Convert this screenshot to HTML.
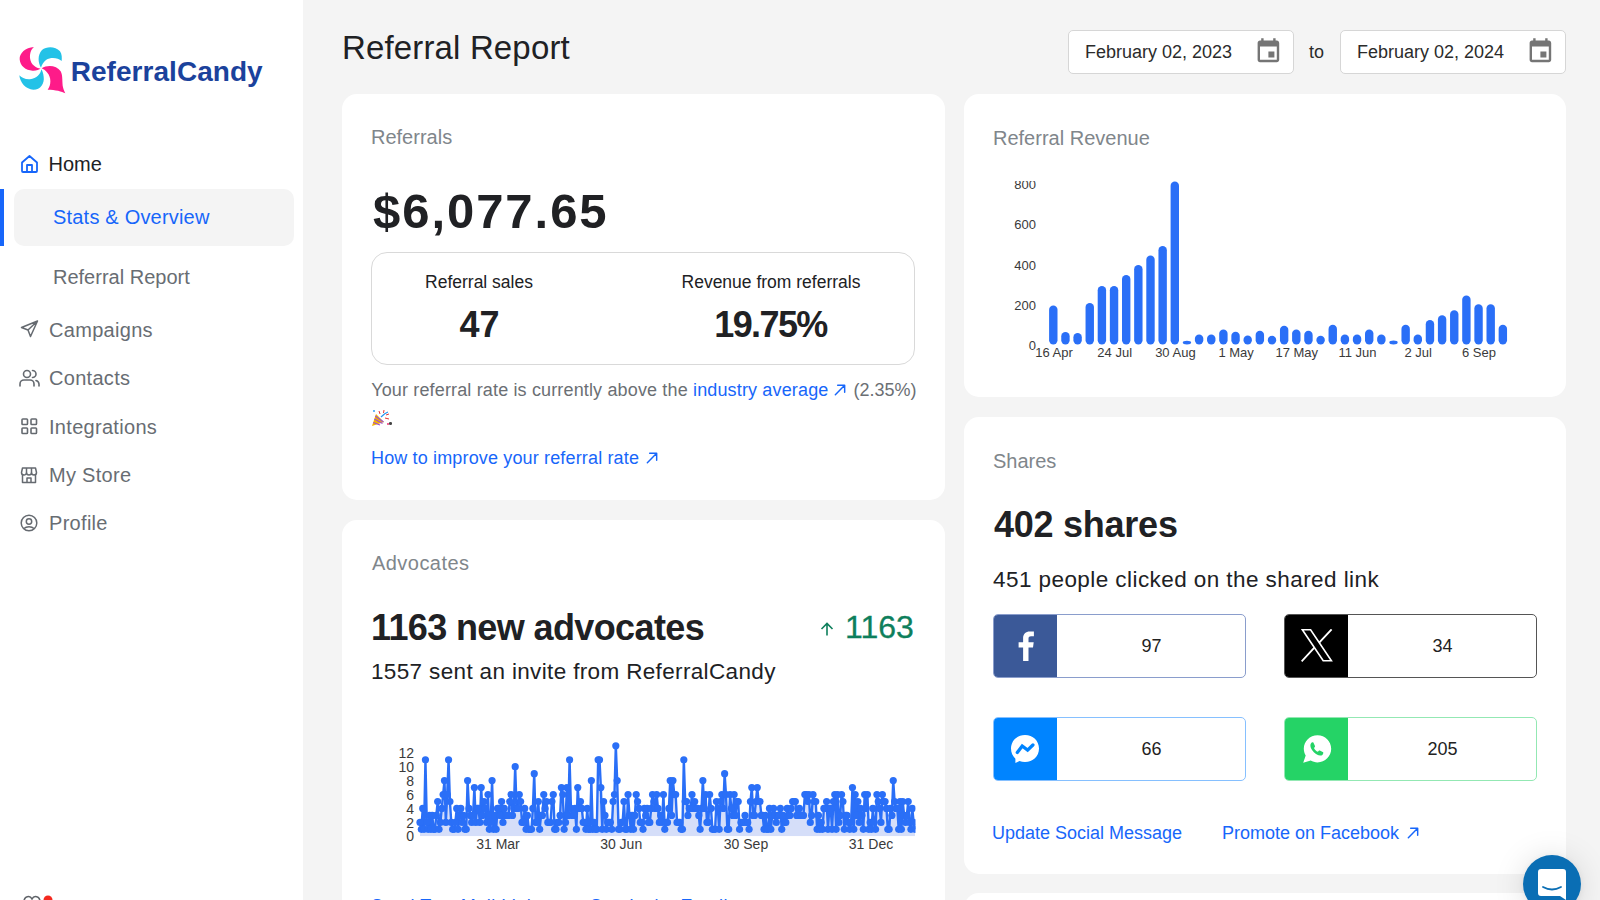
<!DOCTYPE html><html><head><meta charset="utf-8"><style>
html,body{margin:0;padding:0;width:1600px;height:900px;overflow:hidden;background:#f4f4f4;font-family:"Liberation Sans",sans-serif;}
.t{position:absolute;white-space:nowrap;}
.card{position:absolute;background:#fff;border-radius:15px;}
</style></head><body>
<div style="position:absolute;left:0px;top:0px;width:303px;height:900px;background:#fff;"></div>
<svg style="position:absolute;left:14px;top:40px" width="60" height="60" viewBox="0 0 900 900">
<path fill="#fe1b89" d="M300,105 C170,110 80,200 85,290 C90,390 180,465 290,460 C340,455 380,440 400,430 C330,420 250,370 240,270 C235,190 265,130 300,105 Z"/>
<path fill="#23c2e7" d="M405,415 C360,340 350,230 420,150 C490,90 620,90 690,170 C720,210 720,270 715,315 C660,270 560,250 480,300 C440,330 415,380 405,415 Z"/>
<path fill="#23c2e7" d="M80,530 C90,640 180,745 290,745 C400,745 460,650 445,550 C440,500 425,460 410,440 C400,510 340,580 240,590 C170,595 110,565 80,530 Z"/>
<path fill="#fe1b89" d="M415,425 C500,370 640,380 700,470 C735,530 720,640 735,710 C745,750 760,780 770,800 C720,770 620,745 505,745 C560,670 560,560 500,490 C470,455 440,435 415,425 Z"/>
</svg>
<div class="t" id="logo" style="left:70.7px;top:57.50px;font-size:28px;line-height:28px;color:#1b429c;font-weight:700;letter-spacing:0.05px;">ReferralCandy</div>
<div style="position:absolute;left:14px;top:189px;width:280px;height:57px;background:#f4f4f4;border-radius:10px;"></div>
<div style="position:absolute;left:0px;top:189px;width:4px;height:57px;background:#1766fa;"></div>
<div class="t" id="nav_home" style="left:48.5px;top:154.17px;font-size:20px;line-height:20px;color:#202124;font-weight:400;">Home</div>
<div class="t" id="nav_stats" style="left:53px;top:207.47px;font-size:20px;line-height:20px;color:#1766fa;font-weight:400;letter-spacing:0.2px;">Stats &amp; Overview</div>
<div class="t" id="nav_rr" style="left:53px;top:266.57px;font-size:20px;line-height:20px;color:#686d73;font-weight:400;">Referral Report</div>
<div class="t" id="nav_camp" style="left:49px;top:319.57px;font-size:20px;line-height:20px;color:#686d73;font-weight:400;letter-spacing:0.3px;">Campaigns</div>
<div class="t" id="nav_cont" style="left:49px;top:367.87px;font-size:20px;line-height:20px;color:#686d73;font-weight:400;letter-spacing:0.3px;">Contacts</div>
<div class="t" id="nav_int" style="left:49px;top:416.87px;font-size:20px;line-height:20px;color:#686d73;font-weight:400;letter-spacing:0.3px;">Integrations</div>
<div class="t" id="nav_store" style="left:49px;top:465.07px;font-size:20px;line-height:20px;color:#686d73;font-weight:400;letter-spacing:0.3px;">My Store</div>
<div class="t" id="nav_prof" style="left:49px;top:513.27px;font-size:20px;line-height:20px;color:#686d73;font-weight:400;letter-spacing:0.3px;">Profile</div>
<svg style="position:absolute;left:20px;top:154px" width="19" height="20" viewBox="0 0 19 20"><path d="M2 8.5 L9.5 2 L17 8.5 V17 a1 1 0 0 1 -1 1 H3 a1 1 0 0 1 -1 -1 Z M7 18 V11 H12 V18" fill="none" stroke="#1766fa" stroke-width="1.8" stroke-linejoin="round"/></svg>
<svg style="position:absolute;left:20px;top:320px" width="19" height="18" viewBox="0 0 19 18"><path d="M17.5 1 L1.5 7.5 L8 10 L10.5 16.5 Z M8 10 L17.5 1" fill="none" stroke="#656a70" stroke-width="1.5" stroke-linejoin="round"/></svg>
<svg style="position:absolute;left:19px;top:369px" width="21" height="18" viewBox="0 0 21 18"><circle cx="8" cy="5" r="3.5" fill="none" stroke="#656a70" stroke-width="1.6"/><path d="M1 17 V15 a4 4 0 0 1 4 -4 h6 a4 4 0 0 1 4 4 V17 M13.5 1.5 a3.5 3.5 0 0 1 0 7 M17 11.5 a4 4 0 0 1 3 3.5 V17" fill="none" stroke="#656a70" stroke-width="1.6" stroke-linecap="round"/></svg>
<svg style="position:absolute;left:21px;top:418px" width="17" height="17" viewBox="0 0 17 17"><g fill="none" stroke="#656a70" stroke-width="1.6"><rect x="1" y="1" width="5.5" height="5.5" rx="0.8"/><rect x="10" y="1" width="5.5" height="5.5" rx="0.8"/><rect x="1" y="10" width="5.5" height="5.5" rx="0.8"/><rect x="10" y="10" width="5.5" height="5.5" rx="0.8"/></g></svg>
<svg style="position:absolute;left:20px;top:466px" width="18" height="18" viewBox="0 0 18 18"><g fill="none" stroke="#656a70" stroke-width="1.5" stroke-linejoin="round"><path d="M2.5 2 H15.5 L16.5 6.5 a2.5 2.5 0 0 1 -5 0 a2.5 2.5 0 0 1 -5 0 a2.5 2.5 0 0 1 -5 0 Z"/><path d="M2.5 8 V16.5 H15.5 V8"/><path d="M7 16.5 V12 H11 V16.5"/><path d="M6.5 2 V6.5 M11.5 2 V6.5"/></g></svg>
<svg style="position:absolute;left:20px;top:514px" width="18" height="18" viewBox="0 0 18 18"><g fill="none" stroke="#656a70" stroke-width="1.5"><circle cx="9" cy="9" r="7.8"/><circle cx="9" cy="7.5" r="2.7"/><path d="M4 14.5 a6 4 0 0 1 10 0"/></g></svg>
<svg style="position:absolute;left:22px;top:894px" width="34" height="10" viewBox="0 0 34 10"><path d="M2 8 C2 2 8 1 10 5 C12 1 18 2 18 8" fill="none" stroke="#5f6368" stroke-width="1.6"/><circle cx="26" cy="6" r="4.5" fill="#f4291f"/></svg>
<div class="t" id="title" style="left:342px;top:31.17px;font-size:33px;line-height:33px;color:#202124;font-weight:400;letter-spacing:0.15px;">Referral Report</div>
<div style="position:absolute;left:1068px;top:30px;width:226px;height:43.5px;background:#fff;border:1px solid #d6d6d6;border-radius:5px;box-sizing:border-box;"></div>
<div class="t" id="d1" style="left:1085px;top:42.56px;font-size:18px;line-height:18px;color:#2b2b2b;font-weight:400;">February 02, 2023</div>
<svg style="position:absolute;left:1253.6px;top:37.2px" width="28.8" height="28.8" viewBox="0 0 24 24"><path fill="#757575" d="M17 12h-5v5h5v-5zM16 1v2H8V1H6v2H5c-1.11 0-1.99.9-1.99 2L3 19c0 1.1.89 2 2 2h14c1.1 0 2-.9 2-2V5c0-1.1-.9-2-2-2h-1V1h-2zm3 18H5V8h14v11z"/></svg>
<div class="t" id="to" style="left:1309px;top:42.56px;font-size:18px;line-height:18px;color:#2b2b2b;font-weight:400;">to</div>
<div style="position:absolute;left:1340px;top:30px;width:226px;height:43.5px;background:#fff;border:1px solid #d6d6d6;border-radius:5px;box-sizing:border-box;"></div>
<div class="t" id="d2" style="left:1357px;top:42.56px;font-size:18px;line-height:18px;color:#2b2b2b;font-weight:400;">February 02, 2024</div>
<svg style="position:absolute;left:1525.6px;top:37.2px" width="28.8" height="28.8" viewBox="0 0 24 24"><path fill="#757575" d="M17 12h-5v5h5v-5zM16 1v2H8V1H6v2H5c-1.11 0-1.99.9-1.99 2L3 19c0 1.1.89 2 2 2h14c1.1 0 2-.9 2-2V5c0-1.1-.9-2-2-2h-1V1h-2zm3 18H5V8h14v11z"/></svg>
<div style="position:absolute;left:342px;top:94px;width:603px;height:406px;background:#fff;border-radius:15px;"></div>
<div style="position:absolute;left:342px;top:520px;width:603px;height:480px;background:#fff;border-radius:15px;"></div>
<div style="position:absolute;left:964px;top:94px;width:602px;height:303px;background:#fff;border-radius:15px;"></div>
<div style="position:absolute;left:964px;top:417px;width:602px;height:457px;background:#fff;border-radius:15px;"></div>
<div style="position:absolute;left:964px;top:893px;width:602px;height:107px;background:#fff;border-radius:15px;"></div>
<div class="t" id="c1_label" style="left:371px;top:127.27px;font-size:20px;line-height:20px;color:#80868b;font-weight:400;">Referrals</div>
<div class="t" id="c1_big" style="left:373px;top:187.42px;font-size:49px;line-height:49px;color:#202124;font-weight:700;letter-spacing:1.95px;">$6,077.65</div>
<div style="position:absolute;left:371px;top:251.5px;width:544px;height:113.0px;border:1px solid #d9d9d9;border-radius:16px;box-sizing:border-box;"></div>
<div class="t" id="c1_rs" style="left:-21px;width:1000px;text-align:center;top:273.59px;font-size:17.5px;line-height:17.5px;color:#202124;font-weight:400;">Referral sales</div>
<div class="t" id="c1_47" style="left:-20.5px;width:1000px;text-align:center;top:306.83px;font-size:36px;line-height:36px;color:#202124;font-weight:700;">47</div>
<div class="t" id="c1_rev" style="left:271px;width:1000px;text-align:center;top:273.59px;font-size:17.5px;line-height:17.5px;color:#202124;font-weight:400;">Revenue from referrals</div>
<div class="t" id="c1_pct" style="left:270.5px;width:1000px;text-align:center;top:306.83px;font-size:36px;line-height:36px;color:#202124;font-weight:700;letter-spacing:-1.6px;">19.75%</div>
<div class="t" id="c1_p" style="left:371.2px;top:381.26px;font-size:18px;line-height:18px;color:#6b6f74;font-weight:400;letter-spacing:0.15px;">Your referral rate is currently above the <span style="color:#1766fa">industry average</span></div>
<svg style="position:absolute;left:832.5px;top:382.5px" width="14" height="14" viewBox="0 0 12 12"><path d="M2 10 L10 2 M4 2 H10 V8" fill="none" stroke="#1766fa" stroke-width="1.25" stroke-linecap="round" stroke-linejoin="round"/></svg>
<div class="t" id="c1_p2" style="left:853.5px;top:381.26px;font-size:18px;line-height:18px;color:#6b6f74;font-weight:400;">(2.35%)</div>
<svg style="position:absolute;left:371px;top:409px" width="20" height="18" viewBox="0 0 20 18">
<path d="M1 17 L5 5 L13 13 Z" fill="#f4b400"/><path d="M2.2 13.5 L9 16 M3.3 10 L11.5 14.5 M4.3 7 L12.5 13" stroke="#9c4fd6" stroke-width="1.2"/>
<path d="M8 2 L9 5 M13 1 L12.5 4 M15 6 L18 5 M14 9 L18 10" stroke="#e53935" stroke-width="1"/><path d="M10 8 Q14 4 17 3" stroke="#2196f3" stroke-width="1.2" fill="none"/>
<circle cx="17" cy="15" r="0.9" fill="#e91e63"/><circle cx="3" cy="2" r="0.9" fill="#2196f3"/>
</svg>
<div style="position:absolute;left:389px;top:422.3px;width:2.6000000000000227px;height:2.599999999999966px;background:#444;border-radius:50%;"></div>
<div class="t" id="c1_link" style="left:371px;top:448.76px;font-size:18px;line-height:18px;color:#1766fa;font-weight:400;letter-spacing:0.15px;">How to improve your referral rate</div>
<svg style="position:absolute;left:645px;top:450.5px" width="14" height="14" viewBox="0 0 12 12"><path d="M2 10 L10 2 M4 2 H10 V8" fill="none" stroke="#1766fa" stroke-width="1.25" stroke-linecap="round" stroke-linejoin="round"/></svg>
<div class="t" id="c2_label" style="left:372px;top:552.97px;font-size:20px;line-height:20px;color:#80868b;font-weight:400;letter-spacing:0.45px;">Advocates</div>
<div class="t" id="c2_big" style="left:371px;top:610.43px;font-size:36px;line-height:36px;color:#202124;font-weight:700;letter-spacing:-0.62px;">1163 new advocates</div>
<svg style="position:absolute;left:820px;top:622px" width="14" height="14" viewBox="0 0 14 14"><path d="M7 13.5 V1.5 M1.5 7 L7 1.5 L12.5 7" fill="none" stroke="#0e7f5c" stroke-width="1.6"/></svg>
<div class="t" id="c2_green" style="left:845px;top:611.01px;font-size:32px;line-height:32px;color:#0e7f5c;font-weight:400;-webkit-text-stroke:0.3px #0e7f5c;">1163</div>
<div class="t" id="c2_sub" style="left:371px;top:660.95px;font-size:22.5px;line-height:22.5px;color:#202124;font-weight:400;letter-spacing:0.35px;">1557 sent an invite from ReferralCandy</div>
<svg style="position:absolute;left:0;top:0" width="1600" height="900"><defs><clipPath id="cp"><rect x="410" y="700" width="505.5" height="136.29999999999995"/></clipPath></defs><g clip-path="url(#cp)"><polygon points="420,836.3 420.00,822.38 421.36,829.34 422.72,808.46 424.08,829.34 425.44,759.74 426.80,822.38 428.16,829.34 429.52,815.42 430.88,829.34 432.24,815.42 433.60,829.34 434.96,829.34 436.32,815.42 437.68,801.50 439.04,829.34 440.40,822.38 441.76,808.46 443.12,794.54 444.48,780.62 445.84,822.38 447.20,794.54 448.56,759.74 449.92,801.50 451.28,822.38 452.64,829.34 454.00,829.34 455.36,822.38 456.72,808.46 458.08,829.34 459.44,815.42 460.80,808.46 462.16,822.38 463.52,815.42 464.88,829.34 466.24,829.34 467.60,780.62 468.96,808.46 470.32,815.42 471.68,822.38 473.04,815.42 474.40,787.58 475.76,822.38 477.12,808.46 478.48,808.46 479.84,822.38 481.20,787.58 482.55,815.42 483.91,801.50 485.27,808.46 486.63,822.38 487.99,794.54 489.35,829.34 490.71,822.38 492.07,780.62 493.43,829.34 494.79,815.42 496.15,829.34 497.51,808.46 498.87,808.46 500.23,815.42 501.59,801.50 502.95,822.38 504.31,808.46 505.67,815.42 507.03,815.42 508.39,815.42 509.75,801.50 511.11,794.54 512.47,815.42 513.83,808.46 515.19,766.70 516.55,808.46 517.91,808.46 519.27,794.54 520.63,801.50 521.99,822.38 523.35,822.38 524.71,808.46 526.07,829.34 527.43,815.42 528.79,829.34 530.15,829.34 531.51,829.34 532.87,808.46 534.23,773.66 535.59,822.38 536.95,822.38 538.31,801.50 539.67,829.34 541.03,815.42 542.39,815.42 543.75,794.54 545.11,808.46 546.47,801.50 547.83,822.38 549.19,822.38 550.55,822.38 551.91,801.50 553.27,794.54 554.63,829.34 555.99,829.34 557.35,822.38 558.71,822.38 560.07,815.42 561.43,787.58 562.79,794.54 564.15,829.34 565.51,822.38 566.87,787.58 568.23,815.42 569.59,759.74 570.95,808.46 572.31,815.42 573.67,815.42 575.03,808.46 576.39,829.34 577.75,787.58 579.11,808.46 580.47,801.50 581.83,808.46 583.19,822.38 584.55,822.38 585.91,829.34 587.27,808.46 588.63,829.34 589.99,829.34 591.35,780.62 592.71,829.34 594.07,822.38 595.43,829.34 596.79,829.34 598.15,759.74 599.51,759.74 600.87,787.58 602.23,829.34 603.59,801.50 604.95,815.42 606.30,829.34 607.66,822.38 609.02,822.38 610.38,822.38 611.74,829.34 613.10,801.50 614.46,794.54 615.82,745.82 617.18,780.62 618.54,829.34 619.90,829.34 621.26,822.38 622.62,822.38 623.98,801.50 625.34,829.34 626.70,829.34 628.06,794.54 629.42,815.42 630.78,829.34 632.14,815.42 633.50,829.34 634.86,815.42 636.22,794.54 637.58,801.50 638.94,808.46 640.30,822.38 641.66,822.38 643.02,829.34 644.38,808.46 645.74,815.42 647.10,808.46 648.46,822.38 649.82,822.38 651.18,808.46 652.54,794.54 653.90,801.50 655.26,808.46 656.62,794.54 657.98,808.46 659.34,822.38 660.70,815.42 662.06,822.38 663.42,794.54 664.78,829.34 666.14,822.38 667.50,822.38 668.86,808.46 670.22,780.62 671.58,815.42 672.94,780.62 674.30,794.54 675.66,794.54 677.02,822.38 678.38,822.38 679.74,822.38 681.10,829.34 682.46,829.34 683.82,759.74 685.18,801.50 686.54,801.50 687.90,815.42 689.26,808.46 690.62,808.46 691.98,794.54 693.34,808.46 694.70,801.50 696.06,808.46 697.42,808.46 698.78,815.42 700.14,829.34 701.50,808.46 702.86,780.62 704.22,808.46 705.58,794.54 706.94,822.38 708.30,822.38 709.66,794.54 711.02,808.46 712.38,829.34 713.74,829.34 715.10,829.34 716.46,801.50 717.82,808.46 719.18,829.34 720.54,801.50 721.90,794.54 723.26,808.46 724.62,773.66 725.98,794.54 727.34,829.34 728.70,829.34 730.05,794.54 731.41,808.46 732.77,815.42 734.13,794.54 735.49,815.42 736.85,801.50 738.21,801.50 739.57,829.34 740.93,822.38 742.29,822.38 743.65,822.38 745.01,815.42 746.37,822.38 747.73,822.38 749.09,829.34 750.45,801.50 751.81,787.58 753.17,815.42 754.53,815.42 755.89,801.50 757.25,787.58 758.61,801.50 759.97,801.50 761.33,815.42 762.69,815.42 764.05,829.34 765.41,815.42 766.77,829.34 768.13,829.34 769.49,808.46 770.85,829.34 772.21,815.42 773.57,808.46 774.93,815.42 776.29,822.38 777.65,815.42 779.01,815.42 780.37,808.46 781.73,829.34 783.09,815.42 784.45,822.38 785.81,822.38 787.17,808.46 788.53,815.42 789.89,815.42 791.25,808.46 792.61,801.50 793.97,801.50 795.33,801.50 796.69,815.42 798.05,815.42 799.41,808.46 800.77,815.42 802.13,815.42 803.49,815.42 804.85,794.54 806.21,794.54 807.57,801.50 808.93,794.54 810.29,822.38 811.65,815.42 813.01,794.54 814.37,801.50 815.73,801.50 817.09,829.34 818.45,815.42 819.81,829.34 821.17,822.38 822.53,829.34 823.89,808.46 825.25,808.46 826.61,801.50 827.97,829.34 829.33,808.46 830.69,808.46 832.05,829.34 833.41,801.50 834.77,794.54 836.13,829.34 837.49,794.54 838.85,822.38 840.21,815.42 841.57,794.54 842.93,801.50 844.29,829.34 845.65,815.42 847.01,815.42 848.37,822.38 849.73,829.34 851.09,822.38 852.45,787.58 853.80,829.34 855.16,794.54 856.52,815.42 857.88,801.50 859.24,822.38 860.60,808.46 861.96,815.42 863.32,829.34 864.68,794.54 866.04,808.46 867.40,794.54 868.76,829.34 870.12,822.38 871.48,829.34 872.84,808.46 874.20,822.38 875.56,829.34 876.92,794.54 878.28,801.50 879.64,808.46 881.00,822.38 882.36,794.54 883.72,801.50 885.08,801.50 886.44,808.46 887.80,829.34 889.16,829.34 890.52,808.46 891.88,815.42 893.24,780.62 894.60,801.50 895.96,808.46 897.32,808.46 898.68,829.34 900.04,801.50 901.40,829.34 902.76,801.50 904.12,815.42 905.48,822.38 906.84,815.42 908.20,801.50 909.56,822.38 910.92,829.34 912.28,808.46 913.64,822.38 915.00,829.34 915,836.3" fill="#d5def9"/><polyline points="420.00,822.38 421.36,829.34 422.72,808.46 424.08,829.34 425.44,759.74 426.80,822.38 428.16,829.34 429.52,815.42 430.88,829.34 432.24,815.42 433.60,829.34 434.96,829.34 436.32,815.42 437.68,801.50 439.04,829.34 440.40,822.38 441.76,808.46 443.12,794.54 444.48,780.62 445.84,822.38 447.20,794.54 448.56,759.74 449.92,801.50 451.28,822.38 452.64,829.34 454.00,829.34 455.36,822.38 456.72,808.46 458.08,829.34 459.44,815.42 460.80,808.46 462.16,822.38 463.52,815.42 464.88,829.34 466.24,829.34 467.60,780.62 468.96,808.46 470.32,815.42 471.68,822.38 473.04,815.42 474.40,787.58 475.76,822.38 477.12,808.46 478.48,808.46 479.84,822.38 481.20,787.58 482.55,815.42 483.91,801.50 485.27,808.46 486.63,822.38 487.99,794.54 489.35,829.34 490.71,822.38 492.07,780.62 493.43,829.34 494.79,815.42 496.15,829.34 497.51,808.46 498.87,808.46 500.23,815.42 501.59,801.50 502.95,822.38 504.31,808.46 505.67,815.42 507.03,815.42 508.39,815.42 509.75,801.50 511.11,794.54 512.47,815.42 513.83,808.46 515.19,766.70 516.55,808.46 517.91,808.46 519.27,794.54 520.63,801.50 521.99,822.38 523.35,822.38 524.71,808.46 526.07,829.34 527.43,815.42 528.79,829.34 530.15,829.34 531.51,829.34 532.87,808.46 534.23,773.66 535.59,822.38 536.95,822.38 538.31,801.50 539.67,829.34 541.03,815.42 542.39,815.42 543.75,794.54 545.11,808.46 546.47,801.50 547.83,822.38 549.19,822.38 550.55,822.38 551.91,801.50 553.27,794.54 554.63,829.34 555.99,829.34 557.35,822.38 558.71,822.38 560.07,815.42 561.43,787.58 562.79,794.54 564.15,829.34 565.51,822.38 566.87,787.58 568.23,815.42 569.59,759.74 570.95,808.46 572.31,815.42 573.67,815.42 575.03,808.46 576.39,829.34 577.75,787.58 579.11,808.46 580.47,801.50 581.83,808.46 583.19,822.38 584.55,822.38 585.91,829.34 587.27,808.46 588.63,829.34 589.99,829.34 591.35,780.62 592.71,829.34 594.07,822.38 595.43,829.34 596.79,829.34 598.15,759.74 599.51,759.74 600.87,787.58 602.23,829.34 603.59,801.50 604.95,815.42 606.30,829.34 607.66,822.38 609.02,822.38 610.38,822.38 611.74,829.34 613.10,801.50 614.46,794.54 615.82,745.82 617.18,780.62 618.54,829.34 619.90,829.34 621.26,822.38 622.62,822.38 623.98,801.50 625.34,829.34 626.70,829.34 628.06,794.54 629.42,815.42 630.78,829.34 632.14,815.42 633.50,829.34 634.86,815.42 636.22,794.54 637.58,801.50 638.94,808.46 640.30,822.38 641.66,822.38 643.02,829.34 644.38,808.46 645.74,815.42 647.10,808.46 648.46,822.38 649.82,822.38 651.18,808.46 652.54,794.54 653.90,801.50 655.26,808.46 656.62,794.54 657.98,808.46 659.34,822.38 660.70,815.42 662.06,822.38 663.42,794.54 664.78,829.34 666.14,822.38 667.50,822.38 668.86,808.46 670.22,780.62 671.58,815.42 672.94,780.62 674.30,794.54 675.66,794.54 677.02,822.38 678.38,822.38 679.74,822.38 681.10,829.34 682.46,829.34 683.82,759.74 685.18,801.50 686.54,801.50 687.90,815.42 689.26,808.46 690.62,808.46 691.98,794.54 693.34,808.46 694.70,801.50 696.06,808.46 697.42,808.46 698.78,815.42 700.14,829.34 701.50,808.46 702.86,780.62 704.22,808.46 705.58,794.54 706.94,822.38 708.30,822.38 709.66,794.54 711.02,808.46 712.38,829.34 713.74,829.34 715.10,829.34 716.46,801.50 717.82,808.46 719.18,829.34 720.54,801.50 721.90,794.54 723.26,808.46 724.62,773.66 725.98,794.54 727.34,829.34 728.70,829.34 730.05,794.54 731.41,808.46 732.77,815.42 734.13,794.54 735.49,815.42 736.85,801.50 738.21,801.50 739.57,829.34 740.93,822.38 742.29,822.38 743.65,822.38 745.01,815.42 746.37,822.38 747.73,822.38 749.09,829.34 750.45,801.50 751.81,787.58 753.17,815.42 754.53,815.42 755.89,801.50 757.25,787.58 758.61,801.50 759.97,801.50 761.33,815.42 762.69,815.42 764.05,829.34 765.41,815.42 766.77,829.34 768.13,829.34 769.49,808.46 770.85,829.34 772.21,815.42 773.57,808.46 774.93,815.42 776.29,822.38 777.65,815.42 779.01,815.42 780.37,808.46 781.73,829.34 783.09,815.42 784.45,822.38 785.81,822.38 787.17,808.46 788.53,815.42 789.89,815.42 791.25,808.46 792.61,801.50 793.97,801.50 795.33,801.50 796.69,815.42 798.05,815.42 799.41,808.46 800.77,815.42 802.13,815.42 803.49,815.42 804.85,794.54 806.21,794.54 807.57,801.50 808.93,794.54 810.29,822.38 811.65,815.42 813.01,794.54 814.37,801.50 815.73,801.50 817.09,829.34 818.45,815.42 819.81,829.34 821.17,822.38 822.53,829.34 823.89,808.46 825.25,808.46 826.61,801.50 827.97,829.34 829.33,808.46 830.69,808.46 832.05,829.34 833.41,801.50 834.77,794.54 836.13,829.34 837.49,794.54 838.85,822.38 840.21,815.42 841.57,794.54 842.93,801.50 844.29,829.34 845.65,815.42 847.01,815.42 848.37,822.38 849.73,829.34 851.09,822.38 852.45,787.58 853.80,829.34 855.16,794.54 856.52,815.42 857.88,801.50 859.24,822.38 860.60,808.46 861.96,815.42 863.32,829.34 864.68,794.54 866.04,808.46 867.40,794.54 868.76,829.34 870.12,822.38 871.48,829.34 872.84,808.46 874.20,822.38 875.56,829.34 876.92,794.54 878.28,801.50 879.64,808.46 881.00,822.38 882.36,794.54 883.72,801.50 885.08,801.50 886.44,808.46 887.80,829.34 889.16,829.34 890.52,808.46 891.88,815.42 893.24,780.62 894.60,801.50 895.96,808.46 897.32,808.46 898.68,829.34 900.04,801.50 901.40,829.34 902.76,801.50 904.12,815.42 905.48,822.38 906.84,815.42 908.20,801.50 909.56,822.38 910.92,829.34 912.28,808.46 913.64,822.38 915.00,829.34" fill="none" stroke="#2a6ff7" stroke-width="2.4" stroke-linejoin="round"/><g fill="#2a6ff7"><circle cx="420.00" cy="822.38" r="3.6"/><circle cx="421.36" cy="829.34" r="3.6"/><circle cx="422.72" cy="808.46" r="3.6"/><circle cx="424.08" cy="829.34" r="3.6"/><circle cx="425.44" cy="759.74" r="3.6"/><circle cx="426.80" cy="822.38" r="3.6"/><circle cx="428.16" cy="829.34" r="3.6"/><circle cx="429.52" cy="815.42" r="3.6"/><circle cx="430.88" cy="829.34" r="3.6"/><circle cx="432.24" cy="815.42" r="3.6"/><circle cx="433.60" cy="829.34" r="3.6"/><circle cx="434.96" cy="829.34" r="3.6"/><circle cx="436.32" cy="815.42" r="3.6"/><circle cx="437.68" cy="801.50" r="3.6"/><circle cx="439.04" cy="829.34" r="3.6"/><circle cx="440.40" cy="822.38" r="3.6"/><circle cx="441.76" cy="808.46" r="3.6"/><circle cx="443.12" cy="794.54" r="3.6"/><circle cx="444.48" cy="780.62" r="3.6"/><circle cx="445.84" cy="822.38" r="3.6"/><circle cx="447.20" cy="794.54" r="3.6"/><circle cx="448.56" cy="759.74" r="3.6"/><circle cx="449.92" cy="801.50" r="3.6"/><circle cx="451.28" cy="822.38" r="3.6"/><circle cx="452.64" cy="829.34" r="3.6"/><circle cx="454.00" cy="829.34" r="3.6"/><circle cx="455.36" cy="822.38" r="3.6"/><circle cx="456.72" cy="808.46" r="3.6"/><circle cx="458.08" cy="829.34" r="3.6"/><circle cx="459.44" cy="815.42" r="3.6"/><circle cx="460.80" cy="808.46" r="3.6"/><circle cx="462.16" cy="822.38" r="3.6"/><circle cx="463.52" cy="815.42" r="3.6"/><circle cx="464.88" cy="829.34" r="3.6"/><circle cx="466.24" cy="829.34" r="3.6"/><circle cx="467.60" cy="780.62" r="3.6"/><circle cx="468.96" cy="808.46" r="3.6"/><circle cx="470.32" cy="815.42" r="3.6"/><circle cx="471.68" cy="822.38" r="3.6"/><circle cx="473.04" cy="815.42" r="3.6"/><circle cx="474.40" cy="787.58" r="3.6"/><circle cx="475.76" cy="822.38" r="3.6"/><circle cx="477.12" cy="808.46" r="3.6"/><circle cx="478.48" cy="808.46" r="3.6"/><circle cx="479.84" cy="822.38" r="3.6"/><circle cx="481.20" cy="787.58" r="3.6"/><circle cx="482.55" cy="815.42" r="3.6"/><circle cx="483.91" cy="801.50" r="3.6"/><circle cx="485.27" cy="808.46" r="3.6"/><circle cx="486.63" cy="822.38" r="3.6"/><circle cx="487.99" cy="794.54" r="3.6"/><circle cx="489.35" cy="829.34" r="3.6"/><circle cx="490.71" cy="822.38" r="3.6"/><circle cx="492.07" cy="780.62" r="3.6"/><circle cx="493.43" cy="829.34" r="3.6"/><circle cx="494.79" cy="815.42" r="3.6"/><circle cx="496.15" cy="829.34" r="3.6"/><circle cx="497.51" cy="808.46" r="3.6"/><circle cx="498.87" cy="808.46" r="3.6"/><circle cx="500.23" cy="815.42" r="3.6"/><circle cx="501.59" cy="801.50" r="3.6"/><circle cx="502.95" cy="822.38" r="3.6"/><circle cx="504.31" cy="808.46" r="3.6"/><circle cx="505.67" cy="815.42" r="3.6"/><circle cx="507.03" cy="815.42" r="3.6"/><circle cx="508.39" cy="815.42" r="3.6"/><circle cx="509.75" cy="801.50" r="3.6"/><circle cx="511.11" cy="794.54" r="3.6"/><circle cx="512.47" cy="815.42" r="3.6"/><circle cx="513.83" cy="808.46" r="3.6"/><circle cx="515.19" cy="766.70" r="3.6"/><circle cx="516.55" cy="808.46" r="3.6"/><circle cx="517.91" cy="808.46" r="3.6"/><circle cx="519.27" cy="794.54" r="3.6"/><circle cx="520.63" cy="801.50" r="3.6"/><circle cx="521.99" cy="822.38" r="3.6"/><circle cx="523.35" cy="822.38" r="3.6"/><circle cx="524.71" cy="808.46" r="3.6"/><circle cx="526.07" cy="829.34" r="3.6"/><circle cx="527.43" cy="815.42" r="3.6"/><circle cx="528.79" cy="829.34" r="3.6"/><circle cx="530.15" cy="829.34" r="3.6"/><circle cx="531.51" cy="829.34" r="3.6"/><circle cx="532.87" cy="808.46" r="3.6"/><circle cx="534.23" cy="773.66" r="3.6"/><circle cx="535.59" cy="822.38" r="3.6"/><circle cx="536.95" cy="822.38" r="3.6"/><circle cx="538.31" cy="801.50" r="3.6"/><circle cx="539.67" cy="829.34" r="3.6"/><circle cx="541.03" cy="815.42" r="3.6"/><circle cx="542.39" cy="815.42" r="3.6"/><circle cx="543.75" cy="794.54" r="3.6"/><circle cx="545.11" cy="808.46" r="3.6"/><circle cx="546.47" cy="801.50" r="3.6"/><circle cx="547.83" cy="822.38" r="3.6"/><circle cx="549.19" cy="822.38" r="3.6"/><circle cx="550.55" cy="822.38" r="3.6"/><circle cx="551.91" cy="801.50" r="3.6"/><circle cx="553.27" cy="794.54" r="3.6"/><circle cx="554.63" cy="829.34" r="3.6"/><circle cx="555.99" cy="829.34" r="3.6"/><circle cx="557.35" cy="822.38" r="3.6"/><circle cx="558.71" cy="822.38" r="3.6"/><circle cx="560.07" cy="815.42" r="3.6"/><circle cx="561.43" cy="787.58" r="3.6"/><circle cx="562.79" cy="794.54" r="3.6"/><circle cx="564.15" cy="829.34" r="3.6"/><circle cx="565.51" cy="822.38" r="3.6"/><circle cx="566.87" cy="787.58" r="3.6"/><circle cx="568.23" cy="815.42" r="3.6"/><circle cx="569.59" cy="759.74" r="3.6"/><circle cx="570.95" cy="808.46" r="3.6"/><circle cx="572.31" cy="815.42" r="3.6"/><circle cx="573.67" cy="815.42" r="3.6"/><circle cx="575.03" cy="808.46" r="3.6"/><circle cx="576.39" cy="829.34" r="3.6"/><circle cx="577.75" cy="787.58" r="3.6"/><circle cx="579.11" cy="808.46" r="3.6"/><circle cx="580.47" cy="801.50" r="3.6"/><circle cx="581.83" cy="808.46" r="3.6"/><circle cx="583.19" cy="822.38" r="3.6"/><circle cx="584.55" cy="822.38" r="3.6"/><circle cx="585.91" cy="829.34" r="3.6"/><circle cx="587.27" cy="808.46" r="3.6"/><circle cx="588.63" cy="829.34" r="3.6"/><circle cx="589.99" cy="829.34" r="3.6"/><circle cx="591.35" cy="780.62" r="3.6"/><circle cx="592.71" cy="829.34" r="3.6"/><circle cx="594.07" cy="822.38" r="3.6"/><circle cx="595.43" cy="829.34" r="3.6"/><circle cx="596.79" cy="829.34" r="3.6"/><circle cx="598.15" cy="759.74" r="3.6"/><circle cx="599.51" cy="759.74" r="3.6"/><circle cx="600.87" cy="787.58" r="3.6"/><circle cx="602.23" cy="829.34" r="3.6"/><circle cx="603.59" cy="801.50" r="3.6"/><circle cx="604.95" cy="815.42" r="3.6"/><circle cx="606.30" cy="829.34" r="3.6"/><circle cx="607.66" cy="822.38" r="3.6"/><circle cx="609.02" cy="822.38" r="3.6"/><circle cx="610.38" cy="822.38" r="3.6"/><circle cx="611.74" cy="829.34" r="3.6"/><circle cx="613.10" cy="801.50" r="3.6"/><circle cx="614.46" cy="794.54" r="3.6"/><circle cx="615.82" cy="745.82" r="3.6"/><circle cx="617.18" cy="780.62" r="3.6"/><circle cx="618.54" cy="829.34" r="3.6"/><circle cx="619.90" cy="829.34" r="3.6"/><circle cx="621.26" cy="822.38" r="3.6"/><circle cx="622.62" cy="822.38" r="3.6"/><circle cx="623.98" cy="801.50" r="3.6"/><circle cx="625.34" cy="829.34" r="3.6"/><circle cx="626.70" cy="829.34" r="3.6"/><circle cx="628.06" cy="794.54" r="3.6"/><circle cx="629.42" cy="815.42" r="3.6"/><circle cx="630.78" cy="829.34" r="3.6"/><circle cx="632.14" cy="815.42" r="3.6"/><circle cx="633.50" cy="829.34" r="3.6"/><circle cx="634.86" cy="815.42" r="3.6"/><circle cx="636.22" cy="794.54" r="3.6"/><circle cx="637.58" cy="801.50" r="3.6"/><circle cx="638.94" cy="808.46" r="3.6"/><circle cx="640.30" cy="822.38" r="3.6"/><circle cx="641.66" cy="822.38" r="3.6"/><circle cx="643.02" cy="829.34" r="3.6"/><circle cx="644.38" cy="808.46" r="3.6"/><circle cx="645.74" cy="815.42" r="3.6"/><circle cx="647.10" cy="808.46" r="3.6"/><circle cx="648.46" cy="822.38" r="3.6"/><circle cx="649.82" cy="822.38" r="3.6"/><circle cx="651.18" cy="808.46" r="3.6"/><circle cx="652.54" cy="794.54" r="3.6"/><circle cx="653.90" cy="801.50" r="3.6"/><circle cx="655.26" cy="808.46" r="3.6"/><circle cx="656.62" cy="794.54" r="3.6"/><circle cx="657.98" cy="808.46" r="3.6"/><circle cx="659.34" cy="822.38" r="3.6"/><circle cx="660.70" cy="815.42" r="3.6"/><circle cx="662.06" cy="822.38" r="3.6"/><circle cx="663.42" cy="794.54" r="3.6"/><circle cx="664.78" cy="829.34" r="3.6"/><circle cx="666.14" cy="822.38" r="3.6"/><circle cx="667.50" cy="822.38" r="3.6"/><circle cx="668.86" cy="808.46" r="3.6"/><circle cx="670.22" cy="780.62" r="3.6"/><circle cx="671.58" cy="815.42" r="3.6"/><circle cx="672.94" cy="780.62" r="3.6"/><circle cx="674.30" cy="794.54" r="3.6"/><circle cx="675.66" cy="794.54" r="3.6"/><circle cx="677.02" cy="822.38" r="3.6"/><circle cx="678.38" cy="822.38" r="3.6"/><circle cx="679.74" cy="822.38" r="3.6"/><circle cx="681.10" cy="829.34" r="3.6"/><circle cx="682.46" cy="829.34" r="3.6"/><circle cx="683.82" cy="759.74" r="3.6"/><circle cx="685.18" cy="801.50" r="3.6"/><circle cx="686.54" cy="801.50" r="3.6"/><circle cx="687.90" cy="815.42" r="3.6"/><circle cx="689.26" cy="808.46" r="3.6"/><circle cx="690.62" cy="808.46" r="3.6"/><circle cx="691.98" cy="794.54" r="3.6"/><circle cx="693.34" cy="808.46" r="3.6"/><circle cx="694.70" cy="801.50" r="3.6"/><circle cx="696.06" cy="808.46" r="3.6"/><circle cx="697.42" cy="808.46" r="3.6"/><circle cx="698.78" cy="815.42" r="3.6"/><circle cx="700.14" cy="829.34" r="3.6"/><circle cx="701.50" cy="808.46" r="3.6"/><circle cx="702.86" cy="780.62" r="3.6"/><circle cx="704.22" cy="808.46" r="3.6"/><circle cx="705.58" cy="794.54" r="3.6"/><circle cx="706.94" cy="822.38" r="3.6"/><circle cx="708.30" cy="822.38" r="3.6"/><circle cx="709.66" cy="794.54" r="3.6"/><circle cx="711.02" cy="808.46" r="3.6"/><circle cx="712.38" cy="829.34" r="3.6"/><circle cx="713.74" cy="829.34" r="3.6"/><circle cx="715.10" cy="829.34" r="3.6"/><circle cx="716.46" cy="801.50" r="3.6"/><circle cx="717.82" cy="808.46" r="3.6"/><circle cx="719.18" cy="829.34" r="3.6"/><circle cx="720.54" cy="801.50" r="3.6"/><circle cx="721.90" cy="794.54" r="3.6"/><circle cx="723.26" cy="808.46" r="3.6"/><circle cx="724.62" cy="773.66" r="3.6"/><circle cx="725.98" cy="794.54" r="3.6"/><circle cx="727.34" cy="829.34" r="3.6"/><circle cx="728.70" cy="829.34" r="3.6"/><circle cx="730.05" cy="794.54" r="3.6"/><circle cx="731.41" cy="808.46" r="3.6"/><circle cx="732.77" cy="815.42" r="3.6"/><circle cx="734.13" cy="794.54" r="3.6"/><circle cx="735.49" cy="815.42" r="3.6"/><circle cx="736.85" cy="801.50" r="3.6"/><circle cx="738.21" cy="801.50" r="3.6"/><circle cx="739.57" cy="829.34" r="3.6"/><circle cx="740.93" cy="822.38" r="3.6"/><circle cx="742.29" cy="822.38" r="3.6"/><circle cx="743.65" cy="822.38" r="3.6"/><circle cx="745.01" cy="815.42" r="3.6"/><circle cx="746.37" cy="822.38" r="3.6"/><circle cx="747.73" cy="822.38" r="3.6"/><circle cx="749.09" cy="829.34" r="3.6"/><circle cx="750.45" cy="801.50" r="3.6"/><circle cx="751.81" cy="787.58" r="3.6"/><circle cx="753.17" cy="815.42" r="3.6"/><circle cx="754.53" cy="815.42" r="3.6"/><circle cx="755.89" cy="801.50" r="3.6"/><circle cx="757.25" cy="787.58" r="3.6"/><circle cx="758.61" cy="801.50" r="3.6"/><circle cx="759.97" cy="801.50" r="3.6"/><circle cx="761.33" cy="815.42" r="3.6"/><circle cx="762.69" cy="815.42" r="3.6"/><circle cx="764.05" cy="829.34" r="3.6"/><circle cx="765.41" cy="815.42" r="3.6"/><circle cx="766.77" cy="829.34" r="3.6"/><circle cx="768.13" cy="829.34" r="3.6"/><circle cx="769.49" cy="808.46" r="3.6"/><circle cx="770.85" cy="829.34" r="3.6"/><circle cx="772.21" cy="815.42" r="3.6"/><circle cx="773.57" cy="808.46" r="3.6"/><circle cx="774.93" cy="815.42" r="3.6"/><circle cx="776.29" cy="822.38" r="3.6"/><circle cx="777.65" cy="815.42" r="3.6"/><circle cx="779.01" cy="815.42" r="3.6"/><circle cx="780.37" cy="808.46" r="3.6"/><circle cx="781.73" cy="829.34" r="3.6"/><circle cx="783.09" cy="815.42" r="3.6"/><circle cx="784.45" cy="822.38" r="3.6"/><circle cx="785.81" cy="822.38" r="3.6"/><circle cx="787.17" cy="808.46" r="3.6"/><circle cx="788.53" cy="815.42" r="3.6"/><circle cx="789.89" cy="815.42" r="3.6"/><circle cx="791.25" cy="808.46" r="3.6"/><circle cx="792.61" cy="801.50" r="3.6"/><circle cx="793.97" cy="801.50" r="3.6"/><circle cx="795.33" cy="801.50" r="3.6"/><circle cx="796.69" cy="815.42" r="3.6"/><circle cx="798.05" cy="815.42" r="3.6"/><circle cx="799.41" cy="808.46" r="3.6"/><circle cx="800.77" cy="815.42" r="3.6"/><circle cx="802.13" cy="815.42" r="3.6"/><circle cx="803.49" cy="815.42" r="3.6"/><circle cx="804.85" cy="794.54" r="3.6"/><circle cx="806.21" cy="794.54" r="3.6"/><circle cx="807.57" cy="801.50" r="3.6"/><circle cx="808.93" cy="794.54" r="3.6"/><circle cx="810.29" cy="822.38" r="3.6"/><circle cx="811.65" cy="815.42" r="3.6"/><circle cx="813.01" cy="794.54" r="3.6"/><circle cx="814.37" cy="801.50" r="3.6"/><circle cx="815.73" cy="801.50" r="3.6"/><circle cx="817.09" cy="829.34" r="3.6"/><circle cx="818.45" cy="815.42" r="3.6"/><circle cx="819.81" cy="829.34" r="3.6"/><circle cx="821.17" cy="822.38" r="3.6"/><circle cx="822.53" cy="829.34" r="3.6"/><circle cx="823.89" cy="808.46" r="3.6"/><circle cx="825.25" cy="808.46" r="3.6"/><circle cx="826.61" cy="801.50" r="3.6"/><circle cx="827.97" cy="829.34" r="3.6"/><circle cx="829.33" cy="808.46" r="3.6"/><circle cx="830.69" cy="808.46" r="3.6"/><circle cx="832.05" cy="829.34" r="3.6"/><circle cx="833.41" cy="801.50" r="3.6"/><circle cx="834.77" cy="794.54" r="3.6"/><circle cx="836.13" cy="829.34" r="3.6"/><circle cx="837.49" cy="794.54" r="3.6"/><circle cx="838.85" cy="822.38" r="3.6"/><circle cx="840.21" cy="815.42" r="3.6"/><circle cx="841.57" cy="794.54" r="3.6"/><circle cx="842.93" cy="801.50" r="3.6"/><circle cx="844.29" cy="829.34" r="3.6"/><circle cx="845.65" cy="815.42" r="3.6"/><circle cx="847.01" cy="815.42" r="3.6"/><circle cx="848.37" cy="822.38" r="3.6"/><circle cx="849.73" cy="829.34" r="3.6"/><circle cx="851.09" cy="822.38" r="3.6"/><circle cx="852.45" cy="787.58" r="3.6"/><circle cx="853.80" cy="829.34" r="3.6"/><circle cx="855.16" cy="794.54" r="3.6"/><circle cx="856.52" cy="815.42" r="3.6"/><circle cx="857.88" cy="801.50" r="3.6"/><circle cx="859.24" cy="822.38" r="3.6"/><circle cx="860.60" cy="808.46" r="3.6"/><circle cx="861.96" cy="815.42" r="3.6"/><circle cx="863.32" cy="829.34" r="3.6"/><circle cx="864.68" cy="794.54" r="3.6"/><circle cx="866.04" cy="808.46" r="3.6"/><circle cx="867.40" cy="794.54" r="3.6"/><circle cx="868.76" cy="829.34" r="3.6"/><circle cx="870.12" cy="822.38" r="3.6"/><circle cx="871.48" cy="829.34" r="3.6"/><circle cx="872.84" cy="808.46" r="3.6"/><circle cx="874.20" cy="822.38" r="3.6"/><circle cx="875.56" cy="829.34" r="3.6"/><circle cx="876.92" cy="794.54" r="3.6"/><circle cx="878.28" cy="801.50" r="3.6"/><circle cx="879.64" cy="808.46" r="3.6"/><circle cx="881.00" cy="822.38" r="3.6"/><circle cx="882.36" cy="794.54" r="3.6"/><circle cx="883.72" cy="801.50" r="3.6"/><circle cx="885.08" cy="801.50" r="3.6"/><circle cx="886.44" cy="808.46" r="3.6"/><circle cx="887.80" cy="829.34" r="3.6"/><circle cx="889.16" cy="829.34" r="3.6"/><circle cx="890.52" cy="808.46" r="3.6"/><circle cx="891.88" cy="815.42" r="3.6"/><circle cx="893.24" cy="780.62" r="3.6"/><circle cx="894.60" cy="801.50" r="3.6"/><circle cx="895.96" cy="808.46" r="3.6"/><circle cx="897.32" cy="808.46" r="3.6"/><circle cx="898.68" cy="829.34" r="3.6"/><circle cx="900.04" cy="801.50" r="3.6"/><circle cx="901.40" cy="829.34" r="3.6"/><circle cx="902.76" cy="801.50" r="3.6"/><circle cx="904.12" cy="815.42" r="3.6"/><circle cx="905.48" cy="822.38" r="3.6"/><circle cx="906.84" cy="815.42" r="3.6"/><circle cx="908.20" cy="801.50" r="3.6"/><circle cx="909.56" cy="822.38" r="3.6"/><circle cx="910.92" cy="829.34" r="3.6"/><circle cx="912.28" cy="808.46" r="3.6"/><circle cx="913.64" cy="822.38" r="3.6"/><circle cx="915.00" cy="829.34" r="3.6"/></g></g></svg>
<div class="t" style="left:-586px;width:1000px;text-align:right;top:829.45px;font-size:14px;line-height:14px;color:#3a3a3a;font-weight:400;">0</div>
<div class="t" style="left:-586px;width:1000px;text-align:right;top:815.53px;font-size:14px;line-height:14px;color:#3a3a3a;font-weight:400;">2</div>
<div class="t" style="left:-586px;width:1000px;text-align:right;top:801.61px;font-size:14px;line-height:14px;color:#3a3a3a;font-weight:400;">4</div>
<div class="t" style="left:-586px;width:1000px;text-align:right;top:787.69px;font-size:14px;line-height:14px;color:#3a3a3a;font-weight:400;">6</div>
<div class="t" style="left:-586px;width:1000px;text-align:right;top:773.77px;font-size:14px;line-height:14px;color:#3a3a3a;font-weight:400;">8</div>
<div class="t" style="left:-586px;width:1000px;text-align:right;top:759.85px;font-size:14px;line-height:14px;color:#3a3a3a;font-weight:400;">10</div>
<div class="t" style="left:-586px;width:1000px;text-align:right;top:745.93px;font-size:14px;line-height:14px;color:#3a3a3a;font-weight:400;">12</div>
<div class="t" style="left:-2px;width:1000px;text-align:center;top:836.95px;font-size:14px;line-height:14px;color:#3a3a3a;font-weight:400;">31 Mar</div>
<div class="t" style="left:121.20000000000005px;width:1000px;text-align:center;top:836.95px;font-size:14px;line-height:14px;color:#3a3a3a;font-weight:400;">30 Jun</div>
<div class="t" style="left:246px;width:1000px;text-align:center;top:836.95px;font-size:14px;line-height:14px;color:#3a3a3a;font-weight:400;">30 Sep</div>
<div class="t" style="left:371px;width:1000px;text-align:center;top:836.95px;font-size:14px;line-height:14px;color:#3a3a3a;font-weight:400;">31 Dec</div>
<div class="t" style="left:371px;top:896.76px;font-size:18px;line-height:18px;color:#1766fa;font-weight:400;letter-spacing:0.5px;">Send Test Mail Links</div>
<div class="t" style="left:590px;top:896.76px;font-size:18px;line-height:18px;color:#1766fa;font-weight:400;letter-spacing:0.5px;">See Invite Emails</div>
<div class="t" id="c3_label" style="left:993px;top:127.57px;font-size:20px;line-height:20px;color:#80868b;font-weight:400;">Referral Revenue</div>
<svg style="position:absolute;left:0;top:0" width="1600" height="900"><g fill="#2a6ff7"><rect x="1049.10" y="305.60" width="8.4" height="38.80" rx="4.2"/><rect x="1061.25" y="332.00" width="8.4" height="12.40" rx="4.2"/><rect x="1073.40" y="333.00" width="8.4" height="11.40" rx="4.2"/><rect x="1085.55" y="302.90" width="8.4" height="41.50" rx="4.2"/><rect x="1097.70" y="286.00" width="8.4" height="58.40" rx="4.2"/><rect x="1109.85" y="286.00" width="8.4" height="58.40" rx="4.2"/><rect x="1122.00" y="274.90" width="8.4" height="69.50" rx="4.2"/><rect x="1134.15" y="265.00" width="8.4" height="79.40" rx="4.2"/><rect x="1146.30" y="255.50" width="8.4" height="88.90" rx="4.2"/><rect x="1158.45" y="246.00" width="8.4" height="98.40" rx="4.2"/><rect x="1170.60" y="181.60" width="8.4" height="162.80" rx="4.2"/><rect x="1182.75" y="340.70" width="8.4" height="3.70" rx="4.2" ry="1.85"/><rect x="1194.90" y="334.40" width="8.4" height="10.00" rx="4.2"/><rect x="1207.05" y="334.40" width="8.4" height="10.00" rx="4.2"/><rect x="1219.20" y="329.60" width="8.4" height="14.80" rx="4.2"/><rect x="1231.35" y="331.80" width="8.4" height="12.60" rx="4.2"/><rect x="1243.50" y="335.60" width="8.4" height="8.80" rx="4.2"/><rect x="1255.65" y="330.70" width="8.4" height="13.70" rx="4.2"/><rect x="1267.80" y="335.80" width="8.4" height="8.60" rx="4.2"/><rect x="1279.95" y="325.70" width="8.4" height="18.70" rx="4.2"/><rect x="1292.10" y="329.40" width="8.4" height="15.00" rx="4.2"/><rect x="1304.25" y="330.70" width="8.4" height="13.70" rx="4.2"/><rect x="1316.40" y="335.80" width="8.4" height="8.60" rx="4.2"/><rect x="1328.55" y="324.80" width="8.4" height="19.60" rx="4.2"/><rect x="1340.70" y="334.60" width="8.4" height="9.80" rx="4.2"/><rect x="1352.85" y="334.60" width="8.4" height="9.80" rx="4.2"/><rect x="1365.00" y="329.40" width="8.4" height="15.00" rx="4.2"/><rect x="1377.15" y="334.60" width="8.4" height="9.80" rx="4.2"/><rect x="1389.30" y="340.50" width="8.4" height="3.90" rx="4.2" ry="1.95"/><rect x="1401.45" y="324.80" width="8.4" height="19.60" rx="4.2"/><rect x="1413.60" y="334.60" width="8.4" height="9.80" rx="4.2"/><rect x="1425.75" y="320.10" width="8.4" height="24.30" rx="4.2"/><rect x="1437.90" y="315.20" width="8.4" height="29.20" rx="4.2"/><rect x="1450.05" y="310.20" width="8.4" height="34.20" rx="4.2"/><rect x="1462.20" y="295.60" width="8.4" height="48.80" rx="4.2"/><rect x="1474.35" y="304.30" width="8.4" height="40.10" rx="4.2"/><rect x="1486.50" y="304.30" width="8.4" height="40.10" rx="4.2"/><rect x="1498.65" y="324.80" width="8.4" height="19.60" rx="4.2"/></g></svg>
<div style="position:absolute;left:990px;top:181px;width:60px;height:180px;overflow:hidden"><div class="t" style="left:-954px;width:1000px;text-align:right;top:-3.20px;font-size:13px;line-height:13px;color:#3a3a3a;font-weight:400;">800</div>
<div class="t" style="left:-954px;width:1000px;text-align:right;top:37.00px;font-size:13px;line-height:13px;color:#3a3a3a;font-weight:400;">600</div>
<div class="t" style="left:-954px;width:1000px;text-align:right;top:78.20px;font-size:13px;line-height:13px;color:#3a3a3a;font-weight:400;">400</div>
<div class="t" style="left:-954px;width:1000px;text-align:right;top:117.70px;font-size:13px;line-height:13px;color:#3a3a3a;font-weight:400;">200</div>
</div><div class="t" style="left:36px;width:1000px;text-align:right;top:339.20px;font-size:13px;line-height:13px;color:#3a3a3a;font-weight:400;">0</div>
<div class="t" style="left:554.0px;width:1000px;text-align:center;top:345.60px;font-size:13px;line-height:13px;color:#3a3a3a;font-weight:400;">16 Apr</div>
<div class="t" style="left:614.7px;width:1000px;text-align:center;top:345.60px;font-size:13px;line-height:13px;color:#3a3a3a;font-weight:400;">24 Jul</div>
<div class="t" style="left:675.4000000000001px;width:1000px;text-align:center;top:345.60px;font-size:13px;line-height:13px;color:#3a3a3a;font-weight:400;">30 Aug</div>
<div class="t" style="left:736.0999999999999px;width:1000px;text-align:center;top:345.60px;font-size:13px;line-height:13px;color:#3a3a3a;font-weight:400;">1 May</div>
<div class="t" style="left:796.8px;width:1000px;text-align:center;top:345.60px;font-size:13px;line-height:13px;color:#3a3a3a;font-weight:400;">17 May</div>
<div class="t" style="left:857.5px;width:1000px;text-align:center;top:345.60px;font-size:13px;line-height:13px;color:#3a3a3a;font-weight:400;">11 Jun</div>
<div class="t" style="left:918.2px;width:1000px;text-align:center;top:345.60px;font-size:13px;line-height:13px;color:#3a3a3a;font-weight:400;">2 Jul</div>
<div class="t" style="left:978.9000000000001px;width:1000px;text-align:center;top:345.60px;font-size:13px;line-height:13px;color:#3a3a3a;font-weight:400;">6 Sep</div>
<div class="t" id="c4_label" style="left:993px;top:450.67px;font-size:20px;line-height:20px;color:#80868b;font-weight:400;">Shares</div>
<div class="t" id="c4_big" style="left:994px;top:507.43px;font-size:36px;line-height:36px;color:#202124;font-weight:700;letter-spacing:-0.25px;">402 shares</div>
<div class="t" id="c4_sub" style="left:993px;top:568.55px;font-size:22.5px;line-height:22.5px;color:#202124;font-weight:400;letter-spacing:0.43px;">451 people clicked on the shared link</div>
<div style="position:absolute;left:993px;top:614px;width:253px;height:64px;background:#fff;border:1px solid #8a9dcc;border-radius:5px;box-sizing:border-box;overflow:hidden;"><div style="position:absolute;left:-1px;top:-1px;width:64px;height:64px;background:#3b5998;"></div><svg style="position:absolute;left:24px;top:16px" width="16" height="30" viewBox="0 0 16 30"><path fill="#fff" d="M10.5 30 V16.5 H15 L15.7 11.2 H10.5 V7.9 C10.5 6.4 10.9 5.3 13.1 5.3 H15.9 V0.6 C15.4 0.5 13.7 0.4 11.8 0.4 C7.8 0.4 5.1 2.8 5.1 7.3 V11.2 H0.6 V16.5 H5.1 V30 Z"/></svg></div>
<div class="t" id="s_fb" style="left:651.5px;width:1000px;text-align:center;top:636.76px;font-size:18px;line-height:18px;color:#222;font-weight:400;">97</div>
<div style="position:absolute;left:1284px;top:614px;width:253px;height:64px;background:#fff;border:1px solid #555;border-radius:5px;box-sizing:border-box;overflow:hidden;"><div style="position:absolute;left:-1px;top:-1px;width:64px;height:64px;background:#000;"></div><svg style="position:absolute;left:16px;top:14px" width="32" height="34" viewBox="0 0 32 34"><path fill="none" stroke="#fff" stroke-width="1.6" d="M1.4 0.8 H9.6 L30.4 31.8 H22.2 Z"/><path stroke="#fff" stroke-width="1.9" d="M30.6 0.4 L18.2 13.6 M13.6 18.4 L0.6 32.4"/></svg></div>
<div class="t" id="s_x" style="left:942.5px;width:1000px;text-align:center;top:636.76px;font-size:18px;line-height:18px;color:#222;font-weight:400;">34</div>
<div style="position:absolute;left:993px;top:717px;width:253px;height:64px;background:#fff;border:1px solid #86c0ff;border-radius:5px;box-sizing:border-box;overflow:hidden;"><div style="position:absolute;left:-1px;top:-1px;width:64px;height:64px;background:#0084ff;"></div><svg style="position:absolute;left:16px;top:16px" width="30" height="30" viewBox="0 0 30 30"><path fill="#fff" d="M15 1 C7.1 1 1 6.8 1 14.6 C1 18.7 2.7 22.2 5.4 24.7 V29 L9.5 26.9 C11.2 27.6 13 28 15 28 C22.9 28 29 22.3 29 14.5 C29 6.8 22.9 1 15 1 Z"/><path fill="none" stroke="#0084ff" stroke-width="3.3" stroke-linejoin="miter" stroke-linecap="round" d="M7.3 18.4 L12.2 12 L17.6 16.1 L22.9 11"/></svg></div>
<div class="t" id="s_ms" style="left:651.5px;width:1000px;text-align:center;top:739.76px;font-size:18px;line-height:18px;color:#222;font-weight:400;">66</div>
<div style="position:absolute;left:1284px;top:717px;width:253px;height:64px;background:#fff;border:1px solid #93e8b3;border-radius:5px;box-sizing:border-box;overflow:hidden;"><div style="position:absolute;left:-1px;top:-1px;width:64px;height:64px;background:#25d366;"></div><svg style="position:absolute;left:17px;top:16px" width="31" height="31" viewBox="0 0 31 31"><path fill="#fff" d="M15.5 1.2 C7.9 1.2 1.8 7.2 1.8 14.8 C1.8 17.3 2.5 19.6 3.7 21.6 L1.2 28.8 L8.7 26.6 C10.7 27.8 13 28.4 15.5 28.4 C23.1 28.4 29.2 22.3 29.2 14.8 C29.2 7.2 23.1 1.2 15.5 1.2 Z"/><path fill="#25d366" d="M10.6 8.3 C11 8.3 11.4 8.4 11.6 8.9 L13 12 C13.1 12.4 13 12.7 12.8 13 L12 13.9 C12.7 15.6 14.1 17 15.9 17.8 L16.8 16.8 C17.1 16.5 17.4 16.5 17.8 16.6 L20.7 18 C21.2 18.2 21.3 18.5 21.3 18.9 C21.2 20.5 19.7 21.6 18.3 21.5 C13.8 21 9 16.5 8.4 12 C8.2 10.2 9.3 8.3 10.6 8.3 Z"/></svg></div>
<div class="t" id="s_wa" style="left:942.5px;width:1000px;text-align:center;top:739.76px;font-size:18px;line-height:18px;color:#222;font-weight:400;">205</div>
<div class="t" id="l_upd" style="left:992px;top:824.06px;font-size:18px;line-height:18px;color:#1766fa;font-weight:400;">Update Social Message</div>
<div class="t" id="l_promo" style="left:1222px;top:824.06px;font-size:18px;line-height:18px;color:#1766fa;font-weight:400;">Promote on Facebook</div>
<svg style="position:absolute;left:1406px;top:825.5px" width="14" height="14" viewBox="0 0 12 12"><path d="M2 10 L10 2 M4 2 H10 V8" fill="none" stroke="#1766fa" stroke-width="1.25" stroke-linecap="round" stroke-linejoin="round"/></svg>
<div style="position:absolute;left:1523px;top:855px;width:58px;height:58px;border-radius:50%;background:#0a6eb4;box-shadow:0 1px 6px rgba(0,0,0,0.06),0 2px 32px rgba(0,0,0,0.13)"></div><svg style="position:absolute;left:1537px;top:868px" width="30" height="32" viewBox="0 0 30 32"><path fill="#fff" d="M4 1 H26 A3 3 0 0 1 29 4 V32 L23 28 H4 A3 3 0 0 1 1 25 V4 A3 3 0 0 1 4 1 Z"/><path d="M6 19 Q15 24 24 19" fill="none" stroke="#0a6eb4" stroke-width="1.8" stroke-linecap="round"/></svg></body></html>
